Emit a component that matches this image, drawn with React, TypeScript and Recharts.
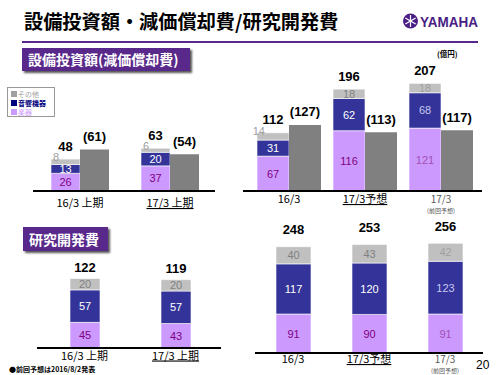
import React from 'react';
import { BarChart, Bar, XAxis, YAxis, LabelList } from 'recharts';

// 設備投資額（上期）
const halfCats = ['16/3 上期', '17/3 上期'];
const halfNotes = ['', ''];
const halfInstr = [26, 37];
const halfAudio = [13, 20];
const halfOther = [8, 6];
const halfCapexTotal = [48, 63];
const halfDep = [61, 54];

// 設備投資額（通期）
const fyCats = ['16/3', '17/3予想', '17/3'];
const fyNotes = ['', '', '(前回予想)'];
const fyInstr = [67, 116, 121];
const fyAudio = [31, 62, 68];
const fyOther = [14, 18, 18];
const fyCapexTotal = [112, 196, 207];
const fyDep = [127, 113, 117];

// 研究開発費（上期）
const rdHalfInstr = [45, 43];
const rdHalfAudio = [57, 57];
const rdHalfOther = [20, 20];
const rdHalfTotal = [122, 119];

// 研究開発費（通期）
const rdFyInstr = [91, 90, 91];
const rdFyAudio = [117, 120, 123];
const rdFyOther = [40, 43, 42];
const rdFyTotal = [248, 253, 256];

const INSTR = '#cc99ff';
const AUDIO = '#333399';
const OTHER = '#c0c0c0';
const DEP = '#808080';
const PURPLE = '#58288a';
const JP = '"Noto Sans CJK JP", "Noto Sans", sans-serif';
const NUM = '"Liberation Sans", Arial, sans-serif';

// [normal, 前回予想 column]
const LABEL_COLORS: Record<string, [string, string]> = {
  instr: ['#800080', '#a050b0'],
  audio: ['#ffffff', '#c8c8f0'],
  other: ['#808080', '#a0a0a0'],
};

function toRows(cats: string[], notes: string[], instr: number[], audio: number[], other: number[], total: number[], dep?: number[]) {
  return cats.map((cat, i) => ({
    cat,
    note: notes[i],
    instr: instr[i],
    audio: audio[i],
    other: other[i],
    total: total[i],
    dep: dep ? dep[i] : undefined,
  }));
}

const box = (p: any) => {
  const vb = p.viewBox && p.viewBox.width !== undefined ? p.viewBox : p;
  const h = Number(vb.height);
  const y = h < 0 ? Number(vb.y) + h : Number(vb.y);
  return { x: Number(vb.x), y, w: Number(vb.width), h: Math.abs(h) };
};

const segLabel = (kind: string, notes: string[]) => (p: any) => {
  const { x, y, w, h } = box(p);
  const prev = notes[p.index ?? 0] !== '';
  if (kind === 'other' && h < 8) {
    // too thin to hold its number, so it sits at the top-left corner
    return (
      <text x={x + 8} y={y + 2} textAnchor="end" fontSize={11} fill="#a0a0a0" fontFamily={NUM}>
        {p.value}
      </text>
    );
  }
  return (
    <text x={x + w / 2} y={y + h / 2 + 4} textAnchor="middle" fontSize={11} fill={LABEL_COLORS[kind][prev ? 1 : 0]} fontFamily={NUM}>
      {p.value}
    </text>
  );
};

const topLabel = (gap: number, paren: boolean) => (p: any) => {
  const { x, y, w } = box(p);
  return (
    <text x={x + w / 2} y={y - gap + 4.5} textAnchor="middle" fontSize={13} fontWeight="bold" fill="#000" fontFamily={NUM}>
      {paren ? `(${p.value})` : p.value}
    </text>
  );
};

const catTick = (notes: string[], catDy: number, noteDy: number) => (p: any) => {
  const i = p.payload.index;
  const prev = notes[i] !== '';
  return (
    <g>
      <text
        x={p.x}
        y={p.y + catDy}
        textAnchor="middle"
        fontSize={prev ? 10 : 11}
        fill={prev ? '#555555' : '#000'}
        fontFamily={JP}
        textDecoration={i === 1 ? 'underline' : undefined}
      >
        {p.payload.value}
      </text>
      {prev && (
        <text x={p.x} y={p.y + noteDy} textAnchor="middle" fontSize={6} fill="#555555" fontFamily={JP}>
          {notes[i]}
        </text>
      )}
    </g>
  );
};

interface ChartProps {
  rows: any[];
  notes: string[];
  left: number;
  top: number;
  width: number;
  height: number;
  xHeight: number;
  yMax: number;
  barSize: number;
  padL: number;
  padR: number;
  withDep: boolean;
  gap: number;
  catDy: number;
  noteDy: number;
}

function StackChart(c: ChartProps) {
  return (
    <div style={{ position: 'absolute', left: c.left, top: c.top }}>
      <BarChart
        width={c.width}
        height={c.height}
        data={c.rows}
        margin={{ top: 0, right: 0, bottom: 0, left: 0 }}
        barGap={0}
        barSize={c.barSize}
      >
        <XAxis
          dataKey="cat"
          height={c.xHeight}
          interval={0}
          tickLine={false}
          axisLine={{ stroke: '#000', strokeWidth: 2 }}
          padding={{ left: c.padL, right: c.padR }}
          tick={catTick(c.notes, c.catDy, c.noteDy)}
        />
        <YAxis hide width={0} domain={[0, c.yMax]} />
        <Bar dataKey="instr" stackId="s" fill={INSTR} stroke="#fff" strokeWidth={0.6} isAnimationActive={false}>
          <LabelList dataKey="instr" content={segLabel('instr', c.notes)} />
        </Bar>
        <Bar dataKey="audio" stackId="s" fill={AUDIO} stroke="#fff" strokeWidth={0.6} isAnimationActive={false}>
          <LabelList dataKey="audio" content={segLabel('audio', c.notes)} />
        </Bar>
        <Bar dataKey="other" stackId="s" fill={OTHER} stroke="#fff" strokeWidth={0.6} isAnimationActive={false}>
          <LabelList dataKey="other" content={segLabel('other', c.notes)} />
          <LabelList dataKey="total" content={topLabel(c.gap, false)} />
        </Bar>
        {c.withDep && (
          <Bar dataKey="dep" stackId="d" fill={DEP} isAnimationActive={false}>
            <LabelList dataKey="dep" content={topLabel(c.gap, true)} />
          </Bar>
        )}
      </BarChart>
    </div>
  );
}

function Header({ text, left, top, width, height }: { text: string; left: number; top: number; width: number; height: number }) {
  return (
    <div
      style={{
        position: 'absolute',
        left,
        top,
        width,
        height,
        background: PURPLE,
        boxShadow: '2px 2px 2px #555',
        color: '#fff',
        fontFamily: JP,
        fontWeight: 700,
        fontSize: 14,
        lineHeight: `${height}px`,
        paddingLeft: 6,
        boxSizing: 'border-box',
        whiteSpace: 'nowrap',
      }}
    >
      {text}
    </div>
  );
}

const legendItems = [
  { name: 'その他', color: '#a0a0a0', bold: false },
  { name: '音響機器', color: '#000080', bold: true },
  { name: '楽器', color: '#cc99ff', bold: false },
];

export default function App() {
  const halfRows = toRows(halfCats, halfNotes, halfInstr, halfAudio, halfOther, halfCapexTotal, halfDep);
  const fyRows = toRows(fyCats, fyNotes, fyInstr, fyAudio, fyOther, fyCapexTotal, fyDep);
  const rdHalfRows = toRows(halfCats, halfNotes, rdHalfInstr, rdHalfAudio, rdHalfOther, rdHalfTotal);
  const rdFyRows = toRows(fyCats, fyNotes, rdFyInstr, rdFyAudio, rdFyOther, rdFyTotal);

  return (
    <div style={{ position: 'absolute', left: 0, top: 0, width: 500, height: 375, background: '#fff', overflow: 'hidden' }}>
      {/* title */}
      <div style={{ position: 'absolute', left: 24, top: 7, fontFamily: JP, fontWeight: 700, fontSize: 19.2, lineHeight: '28px', color: '#000', whiteSpace: 'nowrap' }}>
        設備投資額・減価償却費/研究開発費
      </div>
      <svg style={{ position: 'absolute', left: 400, top: 10 }} width={92} height={22}>
        <circle cx={10.5} cy={11} r={7.5} fill="#4a1e85" />
        <g stroke="#fff" strokeWidth={1.2}>
          <line x1={10.5} y1={5} x2={10.5} y2={17} />
          <line x1={5.3} y1={8} x2={15.7} y2={14} />
          <line x1={5.3} y1={14} x2={15.7} y2={8} />
        </g>
        <text x={20} y={16.5} fontSize={15} fontWeight="bold" fill="#4a1e85" fontFamily={NUM} textLength={58} lengthAdjust="spacingAndGlyphs">
          YAMAHA
        </text>
      </svg>
      <div style={{ position: 'absolute', left: 22, top: 41, width: 456, height: 2, background: PURPLE }} />

      <div style={{ position: 'absolute', left: 437, top: 48, fontFamily: JP, fontWeight: 700, fontSize: 7.5, color: '#000' }}>(億円)</div>

      {/* legend */}
      <div style={{ position: 'absolute', left: 7, top: 87, width: 48, height: 30, border: '1px solid #999', boxSizing: 'border-box', background: '#fff', padding: '1px 0 0 3px' }}>
        {legendItems.map((it) => (
          <div key={it.name} style={{ display: 'flex', alignItems: 'center', height: 9, fontFamily: JP, fontSize: 7, fontWeight: it.bold ? 700 : 400, color: it.color, lineHeight: '8px' }}>
            <span style={{ display: 'inline-block', width: 6, height: 6, background: it.color, marginRight: 1 }} />
            {it.name}
          </div>
        ))}
      </div>

      <StackChart rows={halfRows} notes={halfNotes} left={33} top={100} width={182} height={115} xHeight={24} yMax={134} barSize={29} padL={2} padR={0} withDep gap={13} catDy={8} noteDy={14} />
      <StackChart rows={fyRows} notes={fyNotes} left={243} top={60} width={239} height={155} xHeight={24} yMax={252} barSize={32} padL={8} padR={3} withDep gap={13} catDy={4} noteDy={14} />
      <StackChart rows={rdHalfRows} notes={halfNotes} left={37} top={250} width={184} height={118} xHeight={20} yMax={172} barSize={30} padL={2} padR={0} withDep={false} gap={11} catDy={3.5} noteDy={9} />
      <StackChart rows={rdFyRows} notes={fyNotes} left={255} top={215} width={228} height={160} xHeight={22} yMax={322} barSize={35} padL={0} padR={0} withDep={false} gap={17} catDy={2} noteDy={11.5} />

      <Header text="設備投資額(減価償却費)" left={22} top={48} width={168} height={23} />
      <Header text="研究開発費" left={23} top={227} width={85} height={24} />

      <div style={{ position: 'absolute', left: 9, top: 364, fontFamily: JP, fontWeight: 700, fontSize: 7, color: '#000', whiteSpace: 'nowrap' }}>
        ●前回予想は2016/8/2発表
      </div>
      <div style={{ position: 'absolute', left: 476, top: 358, fontFamily: NUM, fontSize: 12, color: '#000' }}>20</div>
    </div>
  );
}
